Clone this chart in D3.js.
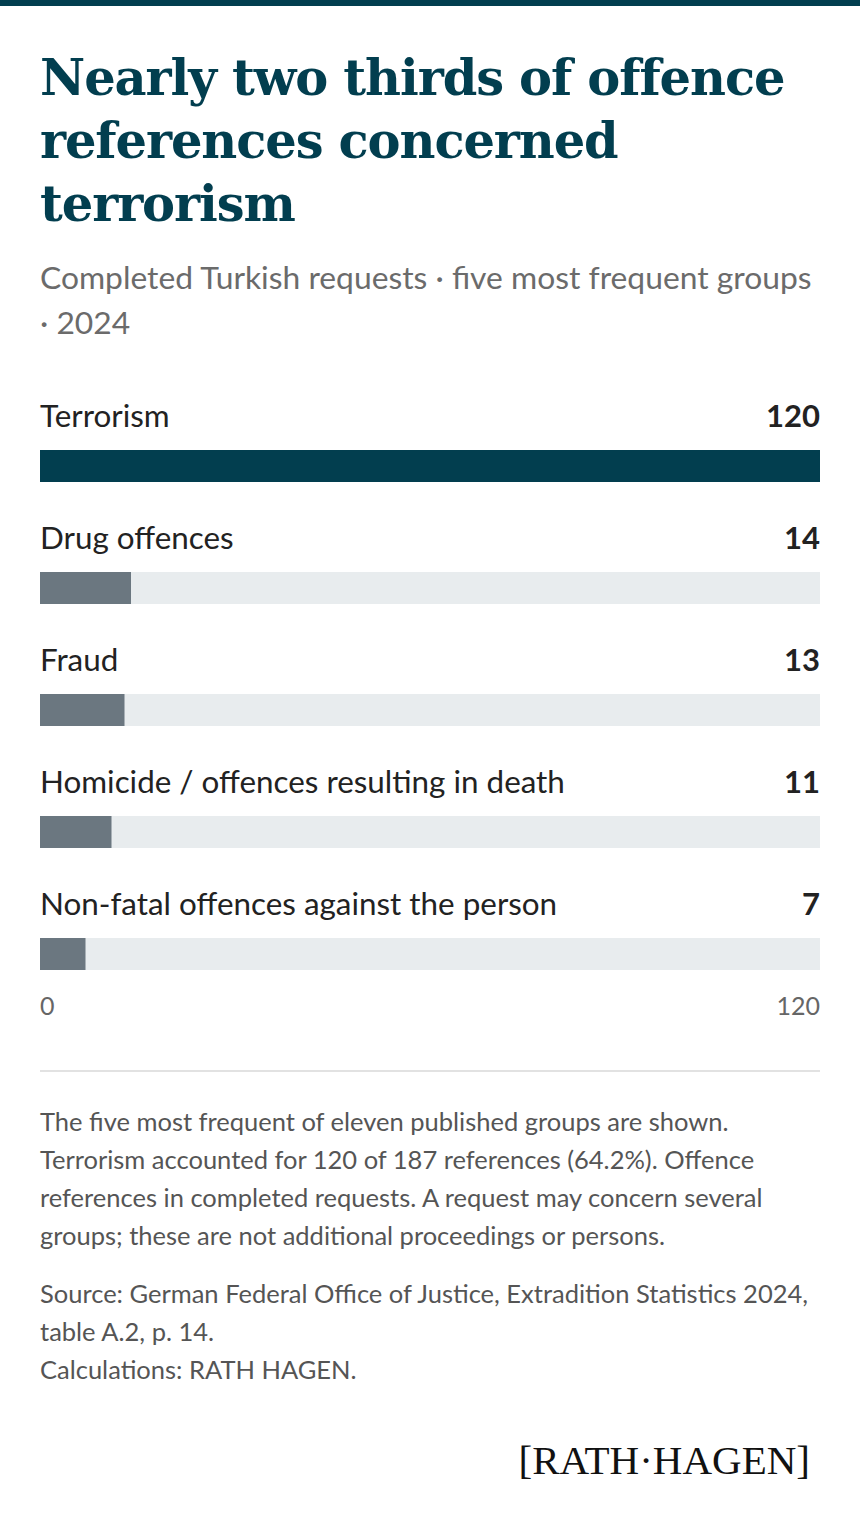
<!DOCTYPE html>
<html><head><meta charset="utf-8">
<script src="https://cdn.jsdelivr.net/npm/d3@7"></script>
<style>body{margin:0;background:#fff}svg{display:block}</style>
</head><body>
<script>
const categories=["Terrorism","Drug offences","Fraud","Homicide / offences resulting in death","Non-fatal offences against the person"];
const values=[120,14,13,11,7];
const axisTicks=[0,120];
const titleLines=["Nearly two thirds of offence","references concerned","terrorism"];
const subtitleLines=["Completed Turkish requests · five most frequent groups","· 2024"];
const noteLines=["The five most frequent of eleven published groups are shown.","Terrorism accounted for 120 of 187 references (64.2%). Offence","references in completed requests. A request may concern several","groups; these are not additional proceedings or persons."];
const sourceLines=["Source: German Federal Office of Justice, Extradition Statistics 2024,","table A.2, p. 14.","Calculations: RATH HAGEN."];

const W=860,H=1526,L=40,R=820,dark="#023e4f";
const svg=d3.select("body").append("svg").attr("width",W).attr("height",H);
svg.append("rect").attr("width",W).attr("height",6).attr("fill",dark);
const sans="Lato, 'Open Sans', sans-serif";
svg.selectAll(".t").data(titleLines).join("text").attr("x",L).attr("y",(d,i)=>95+i*63)
 .attr("font-family","'DejaVu Serif', serif").attr("font-weight",700).attr("font-size",49.5).attr("letter-spacing",-1.1)
 .attr("fill",dark).text(d=>d);
svg.selectAll(".s").data(subtitleLines).join("text").attr("x",L).attr("y",(d,i)=>289+i*45)
 .attr("font-family",sans).attr("font-size",31.8).attr("fill","#6b6b6b").text(d=>d);
const x=d3.scaleLinear().domain([0,120]).range([L,R]);
const y=i=>416+i*122;
const g=svg.selectAll(".row").data(categories).join("g");
g.append("text").attr("x",L).attr("y",(d,i)=>y(i)+11).attr("font-family",sans).attr("font-size",31.4).attr("fill","#222").text(d=>d);
g.append("text").attr("x",R).attr("y",(d,i)=>y(i)+11).attr("text-anchor","end").attr("font-family",sans).attr("font-weight",700).attr("font-size",31).attr("fill","#222").text((d,i)=>values[i]);
g.append("rect").attr("x",L).attr("y",(d,i)=>y(i)+34).attr("width",x(120)-L).attr("height",32).attr("fill","#e8ecee");
g.append("rect").attr("x",L).attr("y",(d,i)=>y(i)+34).attr("width",(d,i)=>x(values[i])-L).attr("height",32).attr("fill",(d,i)=>i===0?dark:"#6b7780");
svg.selectAll(".ax").data(axisTicks).join("text").attr("x",d=>x(d)).attr("y",1015).attr("text-anchor",(d,i)=>i?"end":"start")
 .attr("font-family",sans).attr("font-size",25).attr("fill","#666").text(d=>d);
svg.append("line").attr("x1",L).attr("x2",R).attr("y1",1071).attr("y2",1071).attr("stroke","#d8d8d8").attr("stroke-width",1.5);
svg.selectAll(".n").data(noteLines).join("text").attr("x",L).attr("y",(d,i)=>1131+i*38).attr("font-family",sans).attr("font-size",25.5).attr("fill","#555").text(d=>d);
svg.selectAll(".src").data(sourceLines).join("text").attr("x",L).attr("y",(d,i)=>1303+i*38).attr("font-family",sans).attr("font-size",25.5).attr("fill","#555").text(d=>d);
svg.append("text").attr("x",810).attr("y",1474).attr("text-anchor","end").attr("font-family","'Liberation Serif', serif").attr("font-size",41).attr("fill","#111").text("[RATH·HAGEN]");
</script>
</body></html>
